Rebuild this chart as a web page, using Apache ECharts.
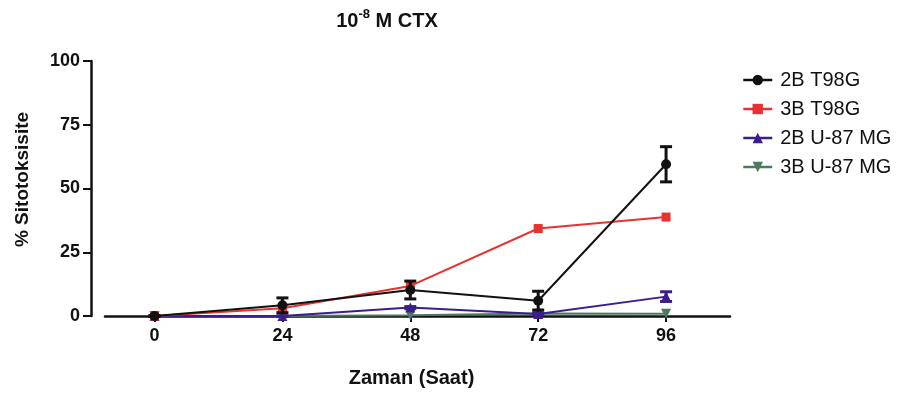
<!DOCTYPE html>
<html>
<head>
<meta charset="utf-8">
<script src="https://cdn.jsdelivr.net/npm/echarts@6/dist/echarts.min.js"></script>
<style>
  html, body { margin: 0; padding: 0; background: #fff; }
  #chart { width: 905px; height: 399px; }
</style>
</head>
<body>
<div id="chart"></div>
<script>
// Time points (hours)
const hours = [0, 24, 48, 72, 96];
const xTickLabels = ['0', '24', '48', '72', '96'];
const yTicks = [0, 25, 50, 75, 100];

// % cytotoxicity, mean per time point
const t98g2B = [0, 4.2, 10.2, 6.0, 59.5];
const t98g3B = [0, 3.0, 11.8, 34.3, 38.8];
const u87mg2B = [0, 0, 3.3, 0.8, 7.6];
const u87mg3B = [0, 0, 0.3, 1.0, 0.9];

// Error (±) per time point
const t98g2BErr = [0, 2.9, 3.5, 3.7, 6.9];
const u87mg2BErr = [0, 0, 0.4, 0.4, 1.9];

const FONT = '"Liberation Sans", Arial, sans-serif';
const pairs = (ys) => hours.map((h, i) => [h, ys[i]]);
const errPairs = (ys, es) => hours.map((h, i) => [h, ys[i] - es[i], ys[i] + es[i]]);

function errorBarSeries(name, ys, es, color, z) {
  return {
    name: name + ' err',
    type: 'custom',
    z: z,
    data: errPairs(ys, es),
    renderItem: function (params, api) {
      const x = api.value(0);
      const lo = api.coord([x, api.value(1)]);
      const hi = api.coord([x, api.value(2)]);
      const half = 6;
      const style = { stroke: color, lineWidth: 3, fill: null };
      return {
        type: 'group',
        children: [
          { type: 'line', shape: { x1: lo[0], y1: lo[1], x2: hi[0], y2: hi[1] }, style: style },
          { type: 'line', shape: { x1: hi[0] - half, y1: hi[1], x2: hi[0] + half, y2: hi[1] }, style: style },
          { type: 'line', shape: { x1: lo[0] - half, y1: lo[1], x2: lo[0] + half, y2: lo[1] }, style: style }
        ]
      };
    }
  };
}

function lineSeries(name, ys, color, symbol, size, z, rotate) {
  return {
    name: name,
    type: 'line',
    data: pairs(ys),
    z: z,
    symbol: symbol,
    symbolSize: size,
    symbolRotate: rotate || 0,
    showAllSymbol: true,
    lineStyle: { color: color, width: 2 },
    itemStyle: { color: color, borderWidth: 0 },
    emphasis: { disabled: true }
  };
}

const chart = echarts.init(document.getElementById('chart'), null, { renderer: 'canvas' });

chart.setOption({
  animation: false,
  backgroundColor: '#ffffff',
  title: {
    text: '{b|10}{s|-8}{b| M CTX}',
    left: 382,
    textAlign: 'center',
    top: 3,
    textStyle: {
      fontFamily: FONT,
      rich: {
        b: { fontSize: 20, fontWeight: 'bold', color: '#111', fontFamily: FONT, lineHeight: 26 },
        s: { fontSize: 13, fontWeight: 'bold', color: '#111', fontFamily: FONT, verticalAlign: 'top', lineHeight: 14 }
      }
    }
  },
  legend: {
    data: ['2B T98G', '3B T98G', '2B U-87 MG', '3B U-87 MG'],
    orient: 'vertical',
    left: 737,
    top: 65,
    itemWidth: 29,
    itemHeight: 13,
    itemGap: 9,
    selectedMode: false,
    lineStyle: { width: 2.5 },
    textStyle: {
      fontFamily: FONT,
      fontSize: 20,
      color: '#111',
      lineHeight: 20,
      padding: [0, 0, 0, 3]
    }
  },
  grid: { left: 105, right: 175, top: 61, bottom: 83, containLabel: false },
  xAxis: {
    type: 'value',
    min: -9.3,
    max: 108,
    name: 'Zaman (Saat)',
    nameLocation: 'middle',
    nameGap: 52,
    nameTextStyle: { fontFamily: FONT, fontSize: 20, fontWeight: 'bold', color: '#111', padding: [0, 12, 0, 0] },
    axisLine: { onZero: false, lineStyle: { color: '#111', width: 2.5 } },
    axisTick: { show: true, length: 6, customValues: hours, lineStyle: { color: '#111', width: 2 } },
    axisLabel: {
      customValues: hours,
      formatter: (v) => xTickLabels[hours.indexOf(v)],
      fontFamily: FONT, fontSize: 18, fontWeight: 'bold', color: '#111', margin: 11
    },
    splitLine: { show: false }
  },
  yAxis: {
    type: 'value',
    min: 0,
    max: 100,
    interval: 25,
    offset: 14,
    name: '% Sitotoksisite',
    nameLocation: 'middle',
    nameGap: 59,
    nameTextStyle: { fontFamily: FONT, fontSize: 19, fontWeight: 'bold', color: '#111', padding: [0, 0, 0, 18] },
    axisLine: { show: true, onZero: false, lineStyle: { color: '#111', width: 2.5 } },
    axisTick: { show: true, length: 8, lineStyle: { color: '#111', width: 2 } },
    axisLabel: {
      fontFamily: FONT, fontSize: 18, fontWeight: 'bold', color: '#111', margin: 11,
      formatter: (v) => (yTicks.indexOf(v) >= 0 ? String(v) : '')
    },
    splitLine: { show: false }
  },
  series: [
    lineSeries('2B T98G', t98g2B, '#111111', 'circle', 10, 8),
    lineSeries('3B T98G', t98g3B, '#e83232', 'rect', 9, 6),
    lineSeries('2B U-87 MG', u87mg2B, '#3b1e8c', 'triangle', 10, 5),
    lineSeries('3B U-87 MG', u87mg3B, '#4d7a5c', 'triangle', 10, 4, 180),
    errorBarSeries('2B T98G', t98g2B, t98g2BErr, '#111111', 8),
    errorBarSeries('2B U-87 MG', u87mg2B, u87mg2BErr, '#3b1e8c', 5)
  ]
});
</script>
</body>
</html>
